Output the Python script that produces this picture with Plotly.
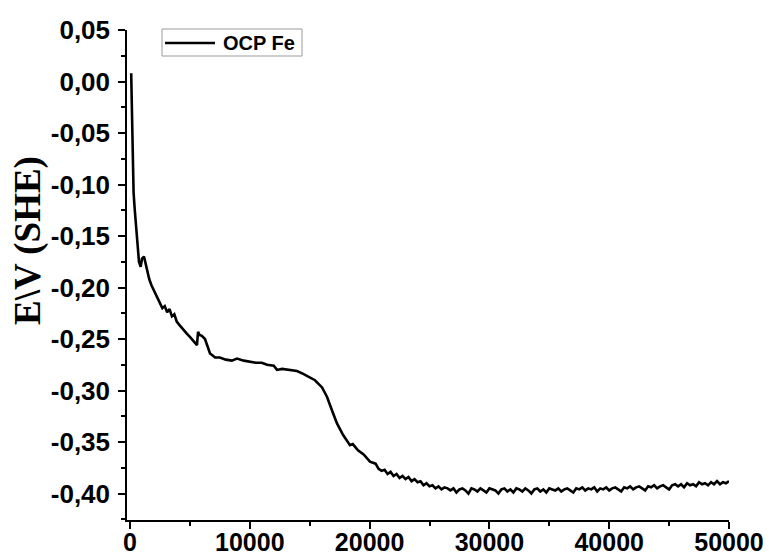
import plotly.graph_objects as go

# Time (s) and potential E vs SHE (V)
time_s = [
    100, 150, 200, 250, 300, 400, 500, 640, 750, 890, 1000, 1170, 1300, 1450, 1610, 1800,
    2090, 2300, 2500, 2700, 2900, 3100, 3300, 3500, 3700, 3900, 4100, 4300, 4500, 4760,
    5000, 5200, 5400, 5590, 5680, 5800, 6000, 6260, 6500, 6680, 6900, 7100, 7500, 8000,
    8500, 8930, 9500, 10000, 10500, 11000, 11440, 12000, 12270, 12700, 13200, 13940, 14500,
    15000, 15440, 16030, 16440, 16950, 17280, 17780, 18100, 18360, 18600, 19030, 19500,
    20030, 20500, 20750, 21000, 21250, 21500, 21750, 22000, 22250, 22500, 22750, 23000,
    23250, 23500, 23750, 24000, 24250, 24500, 24750, 25000, 25250, 25500, 25750, 26000,
    26250, 26500, 26750, 27000, 27250, 27500, 27750, 28000, 28250, 28500, 28750, 29000,
    29250, 29500, 29750, 30000, 30250, 30500, 30750, 31000, 31250, 31500, 31750, 32000,
    32250, 32500, 32750, 33000, 33250, 33500, 33750, 34000, 34250, 34500, 34750, 35000,
    35250, 35500, 35750, 36000, 36250, 36500, 36750, 37000, 37250, 37500, 37750, 38000,
    38250, 38500, 38750, 39000, 39250, 39500, 39750, 40000, 40250, 40500, 40750, 41000,
    41250, 41500, 41750, 42000, 42250, 42500, 42750, 43000, 43250, 43500, 43750, 44000,
    44250, 44500, 44750, 45000, 45250, 45500, 45750, 46000, 46250, 46500, 46750, 47000,
    47250, 47500, 47750, 48000, 48250, 48500, 48750, 49000, 49250, 49500, 49750, 50000,
]
potential_v = [
    0.008, -0.030, -0.070, -0.095, -0.108, -0.125, -0.140, -0.160, -0.175, -0.180, -0.172,
    -0.170, -0.176, -0.185, -0.192, -0.198,
    -0.205, -0.210, -0.216, -0.220, -0.218, -0.224, -0.221, -0.228, -0.226, -0.233,
    -0.236, -0.239, -0.242, -0.245,
    -0.248, -0.251, -0.254, -0.256, -0.243, -0.246, -0.247, -0.250, -0.258, -0.264,
    -0.266, -0.268, -0.268, -0.270,
    -0.271, -0.269, -0.271, -0.272, -0.273, -0.273, -0.275, -0.276, -0.280, -0.279,
    -0.280, -0.281, -0.284,
    -0.287, -0.290, -0.297, -0.306, -0.322, -0.332, -0.343, -0.348, -0.353, -0.352,
    -0.358, -0.362,
    -0.369, -0.371, -0.376, -0.378, -0.377, -0.381, -0.379, -0.383, -0.381, -0.385,
    -0.383, -0.386,
    -0.384, -0.388, -0.386, -0.389, -0.388, -0.392, -0.390, -0.393, -0.392, -0.395,
    -0.393, -0.396,
    -0.394, -0.395, -0.397, -0.395, -0.399, -0.396, -0.395, -0.397, -0.400, -0.395,
    -0.396, -0.398,
    -0.395, -0.397, -0.399, -0.395, -0.396, -0.397, -0.400, -0.396, -0.395, -0.398,
    -0.396, -0.399,
    -0.395, -0.396, -0.398, -0.395, -0.397, -0.400, -0.396, -0.395, -0.398, -0.396,
    -0.399, -0.395,
    -0.396, -0.397, -0.395, -0.398, -0.396, -0.395, -0.397, -0.399, -0.395, -0.396,
    -0.394, -0.397,
    -0.395, -0.396, -0.394, -0.398, -0.395, -0.396, -0.394, -0.397, -0.395, -0.394,
    -0.396, -0.398,
    -0.394, -0.395, -0.393, -0.396, -0.394, -0.393, -0.395, -0.397, -0.393, -0.394,
    -0.392, -0.395,
    -0.393, -0.392, -0.394, -0.396, -0.392, -0.391, -0.393, -0.391, -0.394, -0.390,
    -0.392, -0.391,
    -0.393, -0.389, -0.391, -0.390, -0.392, -0.389, -0.391, -0.388, -0.391, -0.389,
    -0.390, -0.388,
]

x_tick_vals = [0, 10000, 20000, 30000, 40000, 50000]
x_tick_text = ["0", "10000", "20000", "30000", "40000", "50000"]
y_tick_vals = [0.05, 0.00, -0.05, -0.10, -0.15, -0.20, -0.25, -0.30, -0.35, -0.40]
y_tick_text = ["0,05", "0,00", "-0,05", "-0,10", "-0,15", "-0,20", "-0,25", "-0,30", "-0,35", "-0,40"]

series_name = "OCP Fe"
y_title = "E\\V (SHE)"

W, H = 769, 558
ML, MR, MT, MB = 127, 40, 30, 38
PW, PH = W - ML - MR, H - MT - MB


def px_x(p):
    return (p - ML) / PW


def px_y(p):
    return (H - MB - p) / PH


fig = go.Figure()
fig.add_trace(go.Scatter(
    x=time_s, y=potential_v, mode="lines", name=series_name,
    line=dict(color="black", width=2.6), showlegend=False,
))

y_tick_font = dict(family="Liberation Sans, Arial, sans-serif", size=26, color="black", weight="bold")
x_tick_font = dict(family="Liberation Sans, Arial, sans-serif", size=25, color="black", weight="bold")

# legend box drawn as shapes + text
legend_shapes = [
    dict(type="rect", xref="paper", yref="paper",
         x0=px_x(162), x1=px_x(302), y0=px_y(56), y1=px_y(29),
         line=dict(color="#9a9a9a", width=1), fillcolor="white", layer="above"),
    dict(type="line", xref="paper", yref="paper",
         x0=px_x(165), x1=px_x(215), y0=px_y(43), y1=px_y(43),
         line=dict(color="black", width=2.6), layer="above"),
]

fig.update_layout(
    width=W, height=H,
    margin=dict(l=ML, r=MR, t=MT, b=MB, autoexpand=False),
    paper_bgcolor="white", plot_bgcolor="white",
    showlegend=False,
    shapes=legend_shapes,
    annotations=[
        dict(text=series_name, xref="paper", yref="paper", x=px_x(221), y=px_y(43),
             xanchor="left", yanchor="middle", showarrow=False,
             font=dict(family="Liberation Sans, Arial, sans-serif", size=20,
                       color="black", weight="bold")),
        dict(text=y_title, xref="paper", yref="paper", x=px_x(28), y=px_y(241),
             xanchor="center", yanchor="middle", showarrow=False, textangle=-90,
             font=dict(family="Liberation Serif, Times New Roman, serif", size=37,
                       color="black", weight="bold")),
    ],
    xaxis=dict(
        range=[-250, 50000], showgrid=False, zeroline=False, automargin=False,
        showline=True, linecolor="black", linewidth=1.5,
        ticks="outside", ticklen=7, tickwidth=1.5, tickcolor="black",
        tickmode="array", tickvals=x_tick_vals, ticktext=x_tick_text,
        tickfont=x_tick_font, ticklabelstandoff=-8,
        minor=dict(ticks="outside", ticklen=4, tickwidth=1.5, tickcolor="black",
                   dtick=5000, tick0=0, showgrid=False),
    ),
    yaxis=dict(
        range=[-0.4257, 0.05], showgrid=False, zeroline=False, automargin=False,
        showline=True, linecolor="black", linewidth=1.5,
        ticks="outside", ticklen=7, tickwidth=1.5, tickcolor="black",
        tickmode="array", tickvals=y_tick_vals, ticktext=y_tick_text,
        tickfont=y_tick_font, ticklabelstandoff=3,
        minor=dict(ticks="outside", ticklen=4, tickwidth=1.5, tickcolor="black",
                   dtick=0.025, tick0=0.0, showgrid=False),
    ),
)

fig.write_html("out.html", config={"displayModeBar": False},
               post_script="document.body.style.margin='0';document.body.style.overflow='hidden';")
